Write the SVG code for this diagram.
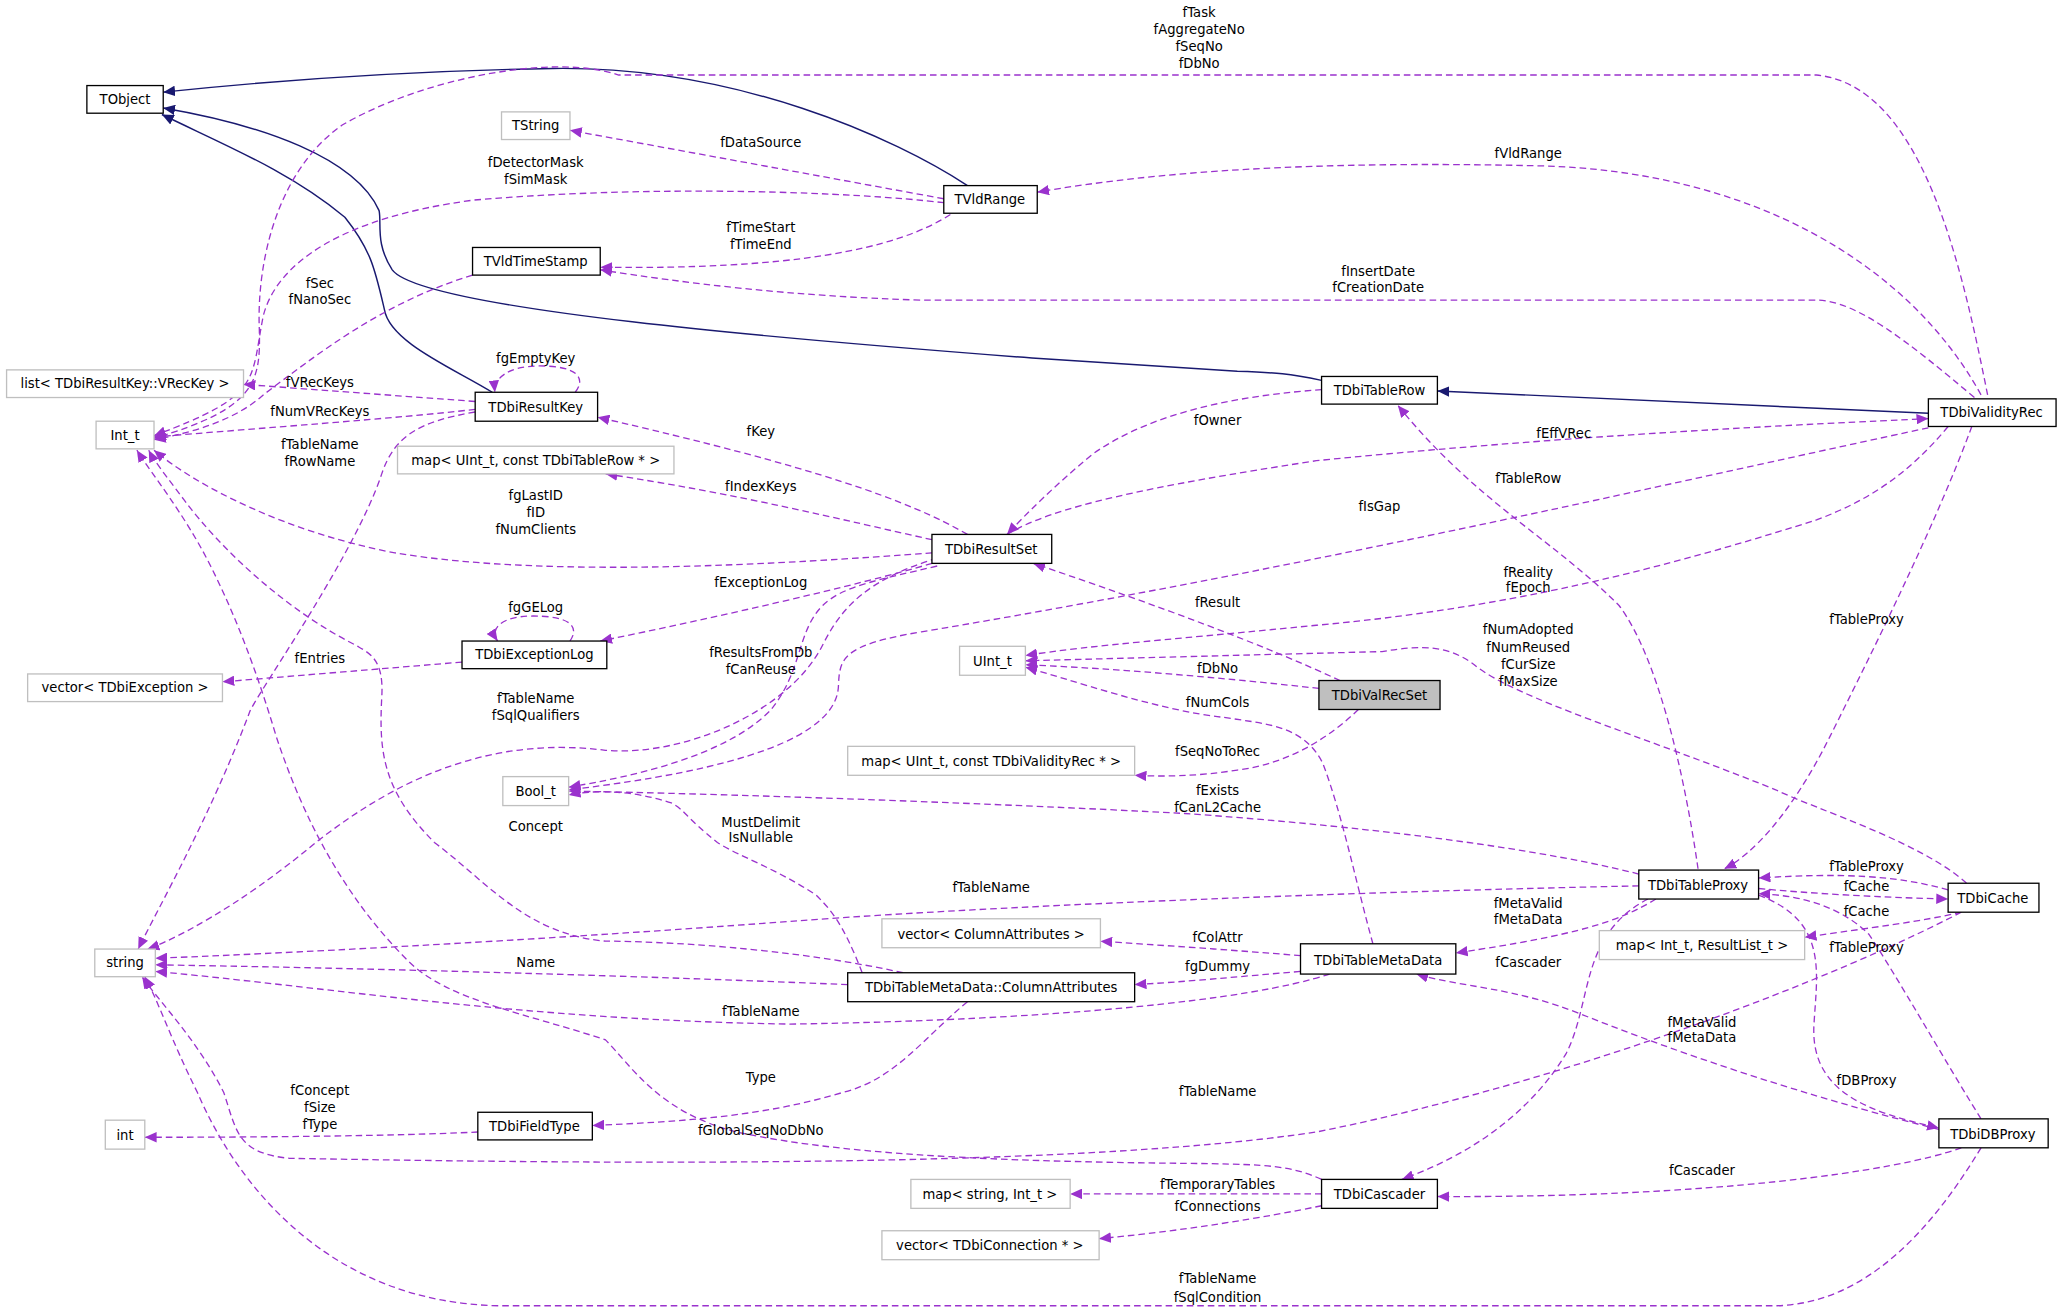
<svg xmlns="http://www.w3.org/2000/svg" width="2064" height="1313" viewBox="0 0 2064 1313">
<style>
text{font-family:"DejaVu Sans","Liberation Sans",sans-serif;font-size:10px;text-anchor:middle;fill:#000}
.n rect{fill:#fff;stroke:#000;stroke-width:1}
.g rect{fill:#fff;stroke:#bfbfbf;stroke-width:1}
.cur rect{fill:#bfbfbf;stroke:#000;stroke-width:1}
.u{fill:none;stroke:#9a32cd;stroke-width:1;stroke-dasharray:5,3;marker-end:url(#mu)}
.i{fill:none;stroke:#191970;stroke-width:1.1;marker-end:url(#mi)}
</style>
<defs>
<marker id="mu" markerUnits="userSpaceOnUse" markerWidth="10" markerHeight="8" refX="9" refY="4" orient="auto"><path d="M0,0 L9,4 L0,8 z" fill="#9a32cd"/></marker>
<marker id="mi" markerUnits="userSpaceOnUse" markerWidth="10" markerHeight="8" refX="9" refY="4" orient="auto"><path d="M0,0 L9,4 L0,8 z" fill="#191970"/></marker>
</defs>
<rect width="2064" height="1313" fill="#fff"/>
<g transform="scale(1.3163)">
<g id="connectors">
<path class="i" d="M735,141 C680,105 560,50 420,52 C300,54 200,62 124,70"/>
<path class="i" d="M1004,289 C980,284 970,283 940,282 L784,272 C600,258 320,235 298,205 C285,185 290,170 288,160 C270,120 200,95 124,82"/>
<path class="i" d="M374,298 C345,280 296,260 292,235 C285,205 282,190 262,165 C220,130 170,110 123,87"/>
<path class="i" d="M1465,314 L1092,297"/>
<path class="u" d="M1510,300 C1490,200 1460,65 1380,57 L470,57 C420,40 320,60 260,95 C210,130 195,200 197,250 C198,290 195,310 117,333"/>
<path class="u" d="M717,151 L433,99"/>
<path class="u" d="M717,154 C650,146 500,140 360,152 C260,165 210,200 200,240 C190,290 200,300 117,331"/>
<path class="u" d="M722,163 C680,190 600,205 456,203"/>
<path class="u" d="M359,209 C290,230 240,270 200,300 C180,318 150,328 117,334"/>
<path class="u" d="M1505,300 C1450,200 1330,130 1170,126 C1000,122 880,130 788,146"/>
<path class="u" d="M1500,302 C1450,260 1410,228 1380,228 L700,228 C600,225 520,215 456,205"/>
<path class="u" d="M437,298 C445,288 440,278 410,278 C385,278 375,288 376,298"/>
<path class="u" d="M361,305 L185,292"/>
<path class="u" d="M361,311 C300,318 200,325 117,332"/>
<path class="u" d="M361,313 C320,320 300,330 290,360 C270,420 200,520 190,540 C160,620 120,690 105,721"/>
<path class="u" d="M712,424 C660,440 640,460 625,490 C600,540 520,575 460,570 C380,560 310,585 240,640 C180,690 130,715 112,721"/>
<path class="u" d="M735,406 C690,380 620,355 454,317"/>
<path class="u" d="M708,410 C640,395 560,375 460,360"/>
<path class="u" d="M708,420 C600,428 420,440 300,420 C220,405 150,370 117,342"/>
<path class="u" d="M708,428 C650,445 540,470 456,487"/>
<path class="u" d="M433,487 C440,477 435,468 405,468 C380,468 372,478 378,487"/>
<path class="u" d="M351,503 L169,518"/>
<path class="u" d="M1004,296 C950,300 880,310 830,345 C800,370 780,390 765,406"/>
<path class="u" d="M765,406 C800,385 870,370 1000,350 C1200,330 1380,322 1465,318"/>
<path class="u" d="M1465,325 C1300,360 1000,430 700,480 C640,490 638,500 637,520 C637,560 560,585 432,600"/>
<path class="u" d="M712,430 C670,440 640,445 625,460 C605,480 610,510 585,540 C550,575 480,590 432,598"/>
<path class="u" d="M1498,324 C1470,400 1420,500 1390,560 C1360,620 1330,650 1310,660"/>
<path class="u" d="M1290,660 C1280,590 1260,500 1230,460 C1180,410 1120,380 1062,308"/>
<path class="u" d="M1480,324 C1450,360 1420,380 1380,395 C1300,420 1170,460 1000,475 C900,485 830,490 779,498"/>
<path class="u" d="M1494,671 C1460,640 1380,615 1349,600 C1250,560 1150,530 1120,505 C1100,490 1080,490 1050,495 L779,502"/>
<path class="u" d="M1018,517 C960,490 880,460 785,428"/>
<path class="u" d="M1002,523 C930,515 850,508 779,505"/>
<path class="u" d="M1043,717 C1030,670 1020,620 1005,580 C990,550 960,550 930,545 C880,540 810,515 779,507"/>
<path class="u" d="M1032,539 C1010,560 980,580 940,585 C910,590 880,590 862,589"/>
<path class="u" d="M1245,664 C1150,640 1000,625 900,618 C750,610 550,603 432,601"/>
<path class="u" d="M1245,673 C1100,676 800,685 600,700 C400,715 200,725 118,728"/>
<path class="u" d="M1480,676 C1440,665 1400,663 1336,667"/>
<path class="u" d="M1336,675 C1390,680 1440,682 1480,683"/>
<path class="u" d="M1490,693 C1460,700 1420,705 1371,712"/>
<path class="u" d="M1505,850 C1480,810 1440,740 1420,710 C1400,690 1370,680 1336,679"/>
<path class="u" d="M1336,680 C1390,700 1380,740 1378,780 C1376,830 1420,845 1473,857"/>
<path class="u" d="M1258,683 C1230,700 1200,710 1106,724"/>
<path class="u" d="M1252,683 C1200,710 1210,760 1190,800 C1160,850 1110,880 1065,896"/>
<path class="u" d="M1473,858 C1400,840 1300,810 1200,770 C1150,750 1110,750 1076,740"/>
<path class="u" d="M1490,872 C1440,890 1300,910 1092,909"/>
<path class="u" d="M1505,872 C1470,930 1420,990 1350,992 L380,992 C250,990 180,900 150,830 C130,790 120,760 110,742"/>
<path class="u" d="M1490,693 C1400,740 1200,820 1000,860 C800,890 400,883 220,880 C180,876 180,860 170,830 C150,790 120,760 108,742"/>
<path class="u" d="M1004,896 C980,885 960,885 920,884 C800,883 650,880 560,860 C500,845 480,810 460,790 C400,770 340,760 310,730 C260,680 230,620 210,560 C195,510 180,470 160,430 C140,390 115,360 104,342"/>
<path class="u" d="M686,739 C600,720 500,715 460,715 C400,710 370,670 330,640 C290,600 288,570 290,530 C292,500 280,496 270,490 C220,465 170,420 140,380 C125,360 117,350 113,342"/>
<path class="u" d="M655,739 C640,700 630,690 620,680 C590,660 560,650 545,640 C520,620 520,615 510,610 C480,600 450,600 432,604"/>
<path class="u" d="M644,748 C450,740 250,735 118,733"/>
<path class="u" d="M1010,740 C950,760 800,775 600,778 C400,775 250,750 118,738"/>
<path class="u" d="M988,726 C940,722 880,718 836,715"/>
<path class="u" d="M988,738 C940,742 900,746 862,748"/>
<path class="u" d="M735,761 C700,790 680,820 640,830 C580,848 520,852 450,855"/>
<path class="u" d="M363,860 C300,863 200,864 110,864"/>
<path class="u" d="M1004,907 L813,907"/>
<path class="u" d="M1004,916 C960,925 900,935 835,941"/>
<g id="labels">
<text x="911" y="13">fTask</text><text x="911" y="26">fAggregateNo</text><text x="911" y="39">fSeqNo</text><text x="911" y="52">fDbNo</text>
<text x="578" y="112">fDataSource</text>
<text x="407" y="127">fDetectorMask</text><text x="407" y="140">fSimMask</text>
<text x="578" y="176">fTimeStart</text><text x="578" y="189">fTimeEnd</text>
<text x="243" y="219">fSec</text><text x="243" y="231">fNanoSec</text>
<text x="1161" y="120">fVldRange</text>
<text x="1047" y="210">fInsertDate</text><text x="1047" y="222">fCreationDate</text>
<text x="407" y="276">fgEmptyKey</text>
<text x="243" y="294">fVRecKeys</text>
<text x="243" y="316">fNumVRecKeys</text>
<text x="243" y="341">fTableName</text><text x="243" y="354">fRowName</text>
<text x="578" y="331">fKey</text>
<text x="578" y="373">fIndexKeys</text>
<text x="407" y="380">fgLastID</text><text x="407" y="393">fID</text><text x="407" y="406">fNumClients</text>
<text x="578" y="446">fExceptionLog</text>
<text x="407" y="465">fgGELog</text>
<text x="243" y="504">fEntries</text>
<text x="925" y="323">fOwner</text>
<text x="1188" y="333">fEffVRec</text>
<text x="1161" y="367">fTableRow</text>
<text x="1048" y="388">fIsGap</text>
<text x="1418" y="474">fTableProxy</text>
<text x="1161" y="438">fReality</text><text x="1161" y="450">fEpoch</text>
<text x="1161" y="482">fNumAdopted</text><text x="1161" y="495">fNumReused</text><text x="1161" y="508">fCurSize</text><text x="1161" y="521">fMaxSize</text>
<text x="925" y="461">fResult</text>
<text x="925" y="511">fDbNo</text>
<text x="925" y="537">fNumCols</text>
<text x="407" y="534">fTableName</text><text x="407" y="547">fSqlQualifiers</text>
<text x="578" y="499">fResultsFromDb</text><text x="578" y="512">fCanReuse</text>
<text x="925" y="574">fSeqNoToRec</text>
<text x="925" y="604">fExists</text><text x="925" y="617">fCanL2Cache</text>
<text x="407" y="631">Concept</text>
<text x="578" y="628">MustDelimit</text><text x="578" y="640">IsNullable</text>
<text x="753" y="678">fTableName</text>
<text x="1418" y="662">fTableProxy</text>
<text x="1418" y="677">fCache</text>
<text x="1418" y="696">fCache</text>
<text x="1418" y="723">fTableProxy</text>
<text x="1161" y="690">fMetaValid</text><text x="1161" y="702">fMetaData</text>
<text x="1161" y="735">fCascader</text>
<text x="925" y="716">fColAttr</text>
<text x="925" y="738">fgDummy</text>
<text x="407" y="735">Name</text>
<text x="578" y="772">fTableName</text>
<text x="1293" y="780">fMetaValid</text><text x="1293" y="792">fMetaData</text>
<text x="1418" y="824">fDBProxy</text>
<text x="578" y="822">Type</text>
<text x="925" y="833">fTableName</text>
<text x="243" y="832">fConcept</text><text x="243" y="845">fSize</text><text x="243" y="858">fType</text>
<text x="578" y="862">fGlobalSeqNoDbNo</text>
<text x="1293" y="893">fCascader</text>
<text x="925" y="903">fTemporaryTables</text>
<text x="925" y="920">fConnections</text>
<text x="925" y="975">fTableName</text><text x="925" y="989">fSqlCondition</text>
</g>
</g>
<g id="TObject" class="n"><rect x="66" y="65" width="58" height="21"/><text x="95" y="79">TObject</text></g>
<g id="TString" class="g"><rect x="381" y="85" width="52" height="21"/><text x="407" y="99">TString</text></g>
<g id="TVldRange" class="n"><rect x="717" y="141" width="71" height="21"/><text x="752" y="155">TVldRange</text></g>
<g id="TVldTimeStamp" class="n"><rect x="359" y="188" width="97" height="21"/><text x="407" y="202">TVldTimeStamp</text></g>
<g id="list_VRecKey" class="g"><rect x="5" y="281" width="180" height="21"/><text x="95" y="295">list&lt; TDbiResultKey::VRecKey &gt;</text></g>
<g id="TDbiResultKey" class="n"><rect x="361" y="298" width="93" height="22"/><text x="407" y="313">TDbiResultKey</text></g>
<g id="Int_t" class="g"><rect x="73" y="320" width="44" height="21"/><text x="95" y="334">Int_t</text></g>
<g id="map_UInt_TableRow" class="g"><rect x="302" y="339" width="210" height="21"/><text x="407" y="353">map&lt; UInt_t, const TDbiTableRow * &gt;</text></g>
<g id="TDbiTableRow" class="n"><rect x="1004" y="286" width="88" height="21"/><text x="1048" y="300">TDbiTableRow</text></g>
<g id="TDbiValidityRec" class="n"><rect x="1465" y="303" width="97" height="21"/><text x="1513" y="317">TDbiValidityRec</text></g>
<g id="TDbiResultSet" class="n"><rect x="708" y="406" width="91" height="22"/><text x="753" y="421">TDbiResultSet</text></g>
<g id="TDbiExceptionLog" class="n"><rect x="351" y="487" width="110" height="21"/><text x="406" y="501">TDbiExceptionLog</text></g>
<g id="vector_TDbiException" class="g"><rect x="21" y="512" width="148" height="21"/><text x="95" y="526">vector&lt; TDbiException &gt;</text></g>
<g id="UInt_t" class="g"><rect x="729" y="491" width="50" height="22"/><text x="754" y="506">UInt_t</text></g>
<g id="TDbiValRecSet" class="cur"><rect x="1002" y="517" width="92" height="22"/><text x="1048" y="532">TDbiValRecSet</text></g>
<g id="map_UInt_ValidityRec" class="g"><rect x="644" y="567" width="218" height="22"/><text x="753" y="582">map&lt; UInt_t, const TDbiValidityRec * &gt;</text></g>
<g id="Bool_t" class="g"><rect x="382" y="590" width="50" height="22"/><text x="407" y="605">Bool_t</text></g>
<g id="TDbiTableProxy" class="n"><rect x="1245" y="661" width="91" height="22"/><text x="1290" y="676">TDbiTableProxy</text></g>
<g id="TDbiCache" class="n"><rect x="1480" y="671" width="69" height="22"/><text x="1514" y="686">TDbiCache</text></g>
<g id="map_Int_ResultList" class="g"><rect x="1215" y="707" width="156" height="22"/><text x="1293" y="722">map&lt; Int_t, ResultList_t &gt;</text></g>
<g id="vector_ColumnAttributes" class="g"><rect x="670" y="698" width="166" height="22"/><text x="753" y="713">vector&lt; ColumnAttributes &gt;</text></g>
<g id="TDbiTableMetaData" class="n"><rect x="988" y="717" width="118" height="23"/><text x="1047" y="733">TDbiTableMetaData</text></g>
<g id="string" class="g"><rect x="72" y="721" width="46" height="21"/><text x="95" y="735">string</text></g>
<g id="ColumnAttributes" class="n"><rect x="644" y="739" width="218" height="22"/><text x="753" y="754">TDbiTableMetaData::ColumnAttributes</text></g>
<g id="int" class="g"><rect x="80" y="851" width="30" height="22"/><text x="95" y="866">int</text></g>
<g id="TDbiFieldType" class="n"><rect x="363" y="845" width="87" height="21"/><text x="406" y="859">TDbiFieldType</text></g>
<g id="TDbiDBProxy" class="n"><rect x="1473" y="850" width="83" height="22"/><text x="1514" y="865">TDbiDBProxy</text></g>
<g id="TDbiCascader" class="n"><rect x="1004" y="896" width="88" height="22"/><text x="1048" y="911">TDbiCascader</text></g>
<g id="map_string_Int" class="g"><rect x="692" y="896" width="121" height="22"/><text x="752" y="911">map&lt; string, Int_t &gt;</text></g>
<g id="vector_TDbiConnection" class="g"><rect x="670" y="935" width="165" height="22"/><text x="752" y="950">vector&lt; TDbiConnection * &gt;</text></g>
</g>
</svg>
